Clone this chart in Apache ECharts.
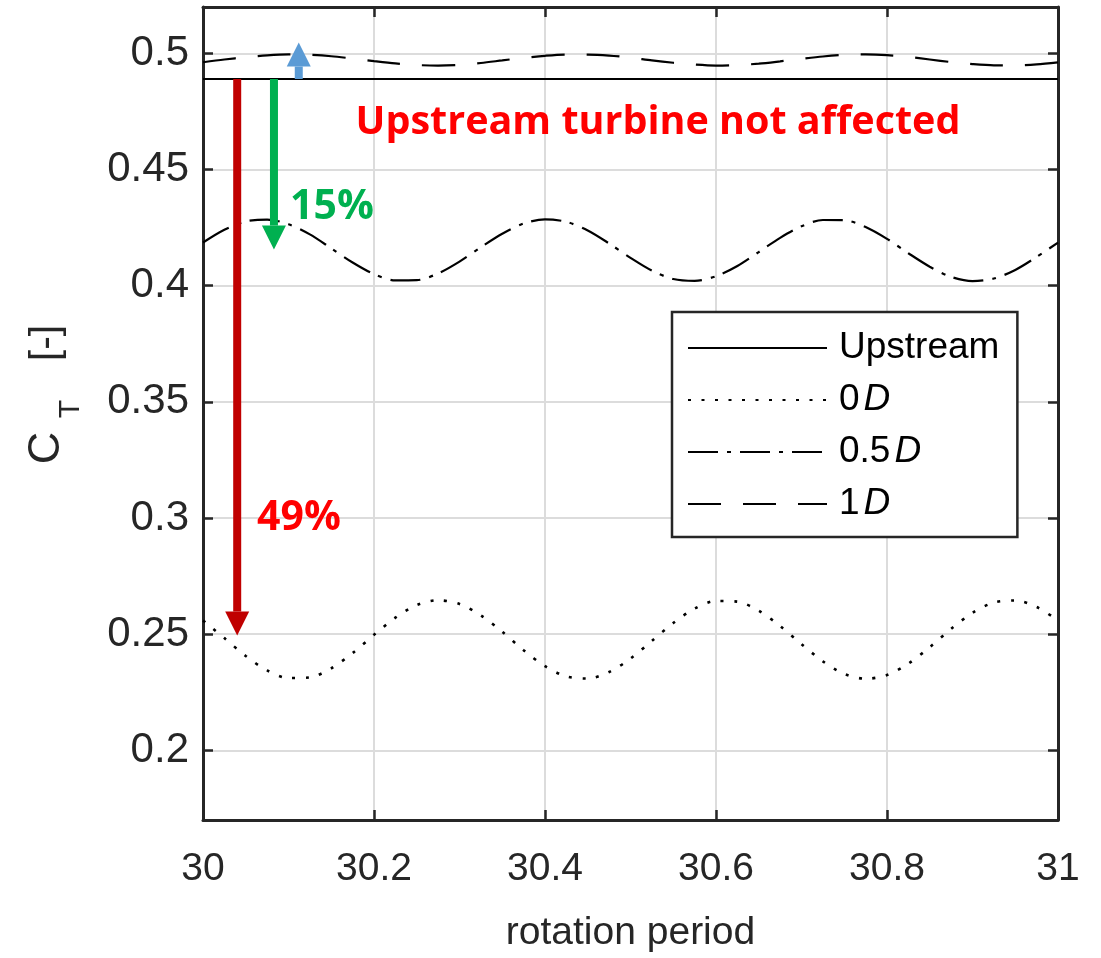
<!DOCTYPE html>
<html>
<head>
<meta charset="utf-8">
<script src="https://cdn.jsdelivr.net/npm/echarts@6/dist/echarts.min.js"></script>
<style>
  html, body { margin: 0; padding: 0; background: #ffffff; }
  #chart { width: 1101px; height: 958px; }
</style>
</head>
<body>
<div id="chart"></div>
<script>
// Rotation period samples (x) shared by the wake cases
const rotation = [
  30.000, 30.025, 30.050, 30.075, 30.100, 30.125, 30.150, 30.175, 30.200, 30.225,
  30.250, 30.275, 30.300, 30.325, 30.350, 30.375, 30.400, 30.425, 30.450, 30.475,
  30.500, 30.525, 30.550, 30.575, 30.600, 30.625, 30.650, 30.675, 30.700, 30.725,
  30.750, 30.775, 30.800, 30.825, 30.850, 30.875, 30.900, 30.925, 30.950, 30.975,
  31.000
];

// Upstream turbine thrust coefficient (steady)
const upstreamX = [30.0, 31.0];
const upstreamCT = [0.489, 0.489];

// Downstream turbine thrust coefficient, 0D lateral offset
const ct0D = [
  0.2559, 0.2483, 0.2406, 0.2344, 0.2311, 0.2314, 0.2353, 0.2419, 0.2497, 0.2571,
  0.2625, 0.2646, 0.2630, 0.2581, 0.2510, 0.2431, 0.2362, 0.2318, 0.2309, 0.2337,
  0.2395, 0.2471, 0.2548, 0.2610, 0.2643, 0.2640, 0.2601, 0.2535, 0.2457, 0.2383,
  0.2329, 0.2308, 0.2324, 0.2373, 0.2444, 0.2523, 0.2592, 0.2636, 0.2645, 0.2617,
  0.2559
];

// 0.5D lateral offset
const ct05D = [
  0.4186, 0.4241, 0.4277, 0.4285, 0.4265, 0.4221, 0.4161, 0.4100, 0.4050, 0.4023,
  0.4024, 0.4053, 0.4104, 0.4166, 0.4224, 0.4268, 0.4286, 0.4275, 0.4238, 0.4182,
  0.4120, 0.4065, 0.4029, 0.4021, 0.4041, 0.4085, 0.4145, 0.4206, 0.4256, 0.4283,
  0.4282, 0.4253, 0.4202, 0.4140, 0.4082, 0.4038, 0.4020, 0.4031, 0.4068, 0.4124,
  0.4186
];

// 1D lateral offset
const ct1D = [
  0.4962, 0.4974, 0.4984, 0.4992, 0.4996, 0.4994, 0.4988, 0.4978, 0.4967, 0.4957,
  0.4950, 0.4948, 0.4951, 0.4959, 0.4970, 0.4981, 0.4990, 0.4995, 0.4995, 0.4991,
  0.4982, 0.4970, 0.4960, 0.4952, 0.4948, 0.4950, 0.4956, 0.4966, 0.4977, 0.4987,
  0.4994, 0.4996, 0.4993, 0.4985, 0.4974, 0.4963, 0.4954, 0.4949, 0.4949, 0.4953,
  0.4962
];

const seriesNames = ['Upstream', '0D', '0.5D', '1D'];
const yTickValues = [0.2, 0.25, 0.3, 0.35, 0.4, 0.45, 0.5];

// Thrust change annotations, relative to the upstream level
const arrowX = [30.04, 30.083, 30.112];
const arrowDrop = [0.49, 0.15];          // 49 % and 15 % reductions
const arrowRiseTo = 0.5047;              // 1D case slightly above upstream
const arrowLabels = ['49%', '15%'];

const upstreamLevel = upstreamCT[0];
const arrowData = [
  [arrowX[0], upstreamLevel, upstreamLevel * (1 - arrowDrop[0])],
  [arrowX[1], upstreamLevel, upstreamLevel * (1 - arrowDrop[1])],
  [arrowX[2], upstreamLevel, arrowRiseTo]
];
const arrowColors = ['#C00000', '#00B050', '#5B9BD5'];

const pairs = (xs, ys) => xs.map((x, i) => [x, ys[i]]);

const AX = '#262626';
const FONT = "'Liberation Sans', Arial, Helvetica, sans-serif";
const NOTE_FONT = "'Open Sans', 'Noto Sans', sans-serif";

const chart = echarts.init(document.getElementById('chart'), null, { renderer: 'canvas' });

const lineBase = { type: 'line', symbol: 'none', showSymbol: false, z: 3, animation: false };

chart.setOption({
  backgroundColor: '#ffffff',
  animation: false,
  grid: { left: 203, right: 43, top: 7, bottom: 135, show: false },
  xAxis: [
    {
      type: 'value', min: 30, max: 31, interval: 0.2,
      axisLine: { show: true, onZero: false, lineStyle: { color: AX, width: 3 } },
      axisTick: { show: true, inside: true, length: 10, lineStyle: { color: AX, width: 2.5 } },
      axisLabel: { color: AX, fontFamily: FONT, fontSize: 39, margin: 30 },
      splitLine: { show: true, lineStyle: { color: '#dcdcdc', width: 2 } },
      name: 'rotation period', nameLocation: 'middle', nameGap: 94,
      nameTextStyle: { color: AX, fontFamily: FONT, fontSize: 39 }
    },
    {
      type: 'value', position: 'top', min: 30, max: 31, interval: 0.2,
      axisLine: { show: true, onZero: false, lineStyle: { color: AX, width: 3 } },
      axisTick: { show: true, inside: true, length: 10, lineStyle: { color: AX, width: 2.5 } },
      axisLabel: { show: false },
      splitLine: { show: false }
    }
  ],
  yAxis: [
    {
      type: 'value', min: 0.17, max: 0.52,
      axisLine: { show: true, onZero: false, lineStyle: { color: AX, width: 3 } },
      axisTick: { show: true, inside: true, length: 10, lineStyle: { color: AX, width: 2.5 }, customValues: yTickValues },
      axisLabel: { color: AX, fontFamily: FONT, fontSize: 42, margin: 14, customValues: yTickValues },
      splitLine: { show: true, lineStyle: { color: '#dcdcdc', width: 2 } }
    },
    {
      type: 'value', position: 'right', min: 0.17, max: 0.52,
      axisLine: { show: true, onZero: false, lineStyle: { color: AX, width: 3 } },
      axisTick: { show: true, inside: true, length: 10, lineStyle: { color: AX, width: 2.5 }, customValues: yTickValues },
      axisLabel: { show: false },
      splitLine: { show: false }
    }
  ],
  legend: {
    data: seriesNames,
    orient: 'vertical',
    left: 672, top: 312,
    padding: [16, 18, 13, 15],
    itemWidth: 139, itemHeight: 14, itemGap: 12,
    backgroundColor: '#ffffff',
    borderColor: AX, borderWidth: 2.5, borderRadius: 0,
    selectedMode: false,
    itemStyle: { opacity: 0 },
    formatter: name => name.endsWith('D') ? name.slice(0, -1) + '{i|D}' : name,
    textStyle: {
      color: '#000000', fontFamily: FONT, fontSize: 37, lineHeight: 40, padding: [0, 0, 0, 7],
      rich: { i: { fontStyle: 'italic', fontFamily: FONT, fontSize: 37, color: '#000000', padding: [0, 0, 0, 4] } }
    }
  },
  series: [
    Object.assign({}, lineBase, {
      name: 'Upstream', data: pairs(upstreamX, upstreamCT),
      lineStyle: { color: '#000000', width: 2.2, type: 'solid' }, itemStyle: { color: '#000000' }
    }),
    Object.assign({}, lineBase, {
      name: '0D', data: pairs(rotation, ct0D), smooth: 0.3,
      lineStyle: { color: '#000000', width: 2.6, type: [3, 10.5] }, itemStyle: { color: '#000000' }
    }),
    Object.assign({}, lineBase, {
      name: '0.5D', data: pairs(rotation, ct05D), smooth: 0.3,
      lineStyle: { color: '#000000', width: 2.2, type: [30, 9, 4, 9] }, itemStyle: { color: '#000000' }
    }),
    Object.assign({}, lineBase, {
      name: '1D', data: pairs(rotation, ct1D), smooth: 0.3,
      lineStyle: { color: '#000000', width: 2.2, type: [33, 22] }, itemStyle: { color: '#000000' }
    }),
    {
      type: 'custom', name: 'arrows', clip: false, z: 6, animation: false,
      data: arrowData,
      renderItem: (params, api) => {
        const x = api.value(0);
        const p0 = api.coord([x, api.value(1)]);
        const p1 = api.coord([x, api.value(2)]);
        const color = arrowColors[params.dataIndex];
        const dir = p1[1] > p0[1] ? 1 : -1;
        const headLen = 24, headHalf = 12, shaftHalf = 4;
        const base = p1[1] - dir * headLen;
        return {
          type: 'group',
          children: [
            {
              type: 'rect',
              shape: { x: p0[0] - shaftHalf, y: Math.min(p0[1], base), width: shaftHalf * 2, height: Math.abs(base - p0[1]) },
              style: { fill: color }
            },
            {
              type: 'polygon',
              shape: { points: [[p0[0] - headHalf, base], [p0[0] + headHalf, base], [p1[0], p1[1]]] },
              style: { fill: color }
            }
          ]
        };
      }
    }
  ],
  graphic: [
    {
      type: 'text', x: 658, y: 123, z: 10,
      style: { text: 'Upstream turbine not affected', fill: '#FF0000', font: "bold 39.5px " + NOTE_FONT, align: 'center', verticalAlign: 'middle' }
    },
    {
      type: 'text', x: 290, y: 207, z: 10,
      style: { text: arrowLabels[1], fill: '#00B050', font: "bold 41px " + NOTE_FONT, align: 'left', verticalAlign: 'middle' }
    },
    {
      type: 'text', x: 257, y: 518, z: 10,
      style: { text: arrowLabels[0], fill: '#FF0000', font: "bold 41px " + NOTE_FONT, align: 'left', verticalAlign: 'middle' }
    },
    // y-axis title: C with subscript T, then [-]
    {
      type: 'text', x: 47, y: 448, rotation: Math.PI / 2, z: 10,
      style: { text: 'C', fill: AX, font: "45px " + FONT, align: 'center', verticalAlign: 'middle' }
    },
    {
      type: 'text', x: 71, y: 409, rotation: Math.PI / 2, z: 10,
      style: { text: 'T', fill: AX, font: "30px " + FONT, align: 'center', verticalAlign: 'middle' }
    },
    {
      type: 'text', x: 47, y: 343, rotation: Math.PI / 2, z: 10,
      style: { text: '[-]', fill: AX, font: "41px " + FONT, align: 'center', verticalAlign: 'middle' }
    }
  ]
});
</script>
</body>
</html>
